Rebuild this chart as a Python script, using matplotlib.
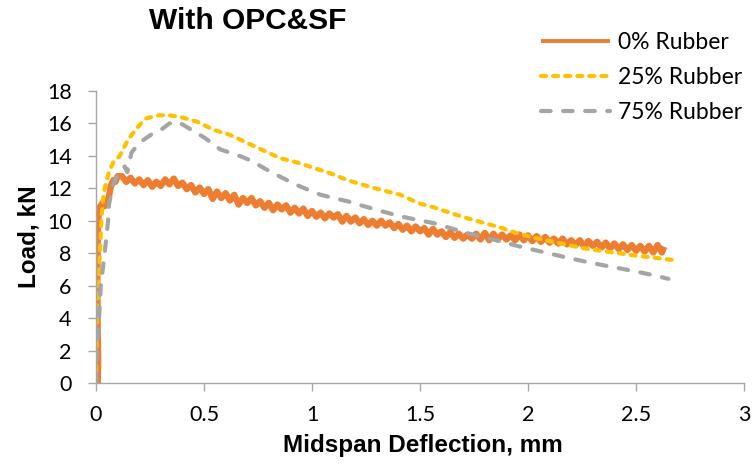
import matplotlib
matplotlib.use("Agg")
import matplotlib.pyplot as plt

# ---- data ----
x_0 = [0.0, 0.008, 0.010, 0.008, 0.006, 0.008, 0.012, 0.02, 0.03, 0.04, 0.05, 0.06, 0.07, 0.08, 0.09, 0.10,
       0.12, 0.14, 0.16, 0.18, 0.20, 0.22, 0.24, 0.26, 0.28, 0.30, 0.32, 0.34, 0.36, 0.38, 0.40,
       0.42, 0.44, 0.46, 0.48, 0.50, 0.52, 0.54, 0.56, 0.58, 0.60, 0.62, 0.64, 0.66, 0.68, 0.70,
       0.72, 0.74, 0.76, 0.78, 0.80, 0.82, 0.84, 0.86, 0.88, 0.90, 0.92, 0.94, 0.96, 0.98, 1.00,
       1.02, 1.04, 1.06, 1.08, 1.10, 1.12, 1.14, 1.16, 1.18, 1.20, 1.22, 1.24, 1.26, 1.28, 1.30,
       1.32, 1.34, 1.36, 1.38, 1.40, 1.42, 1.44, 1.46, 1.48, 1.50, 1.52, 1.54, 1.56, 1.58, 1.60,
       1.62, 1.64, 1.66, 1.68, 1.70, 1.72, 1.74, 1.76, 1.78, 1.80, 1.82, 1.84, 1.86, 1.88, 1.90,
       1.92, 1.94, 1.96, 1.98, 2.00, 2.02, 2.04, 2.06, 2.08, 2.10, 2.12, 2.14, 2.16, 2.18, 2.20,
       2.22, 2.24, 2.26, 2.28, 2.30, 2.32, 2.34, 2.36, 2.38, 2.40, 2.42, 2.44, 2.46, 2.48, 2.50,
       2.52, 2.54, 2.56, 2.58, 2.60, 2.62, 2.63]
y_0 = [0.0, 0.0, 1.5, 3.0, 6.0, 9.0, 10.5, 10.9, 11.1, 10.9, 11.2, 11.5, 12.2, 12.5, 12.4, 12.75,
       12.75, 12.4, 12.65, 12.3, 12.55, 12.2, 12.5, 12.1, 12.4, 12.15, 12.55, 12.25, 12.6, 12.15, 12.35,
       11.95, 12.2, 11.75, 12.05, 11.65, 11.95, 11.35, 11.8, 11.4, 11.7, 11.25, 11.6, 11.0, 11.4, 11.1,
       11.4, 10.95, 11.2, 10.8, 11.1, 10.65, 11.0, 10.7, 10.95, 10.5, 10.8, 10.45, 10.75, 10.3, 10.6,
       10.25, 10.5, 10.15, 10.45, 10.2, 10.4, 9.95, 10.3, 9.95, 10.2, 9.85, 10.1, 9.75, 10.0, 9.7,
       10.0, 9.7, 9.9, 9.55, 9.8, 9.45, 9.7, 9.35, 9.65, 9.35, 9.55, 9.15, 9.5, 9.15, 9.35,
       9.0, 9.3, 8.95, 9.2, 8.9, 9.15, 8.9, 9.2, 8.85, 9.25, 8.8, 9.2, 8.85, 9.15, 8.85,
       9.1, 8.8, 9.15, 8.8, 9.1, 8.75, 9.05, 8.7, 9.0, 8.65, 8.9, 8.6, 8.9, 8.55, 8.8,
       8.5, 8.8, 8.4, 8.75, 8.45, 8.7, 8.35, 8.65, 8.3, 8.6, 8.25, 8.55, 8.2, 8.5, 8.15,
       8.45, 8.1, 8.45, 8.05, 8.5, 8.05, 8.4]

x_25 = [0.0, 0.005, 0.010, 0.018, 0.025, 0.030, 0.040, 0.060, 0.080, 0.110, 0.148, 0.195, 0.23,
        0.29, 0.34, 0.39, 0.47, 0.545, 0.62, 0.70, 0.78, 0.855, 0.93, 1.01, 1.09, 1.165, 1.24,
        1.32, 1.41, 1.49, 1.57, 1.645, 1.72, 1.80, 1.88, 1.95, 2.03, 2.11, 2.19, 2.26, 2.34,
        2.42, 2.50, 2.57, 2.63, 2.69]
y_25 = [0.0, 4.0, 6.0, 8.0, 10.0, 11.0, 12.0, 13.0, 13.6, 14.0, 15.0, 15.8, 16.3,
        16.5, 16.5, 16.4, 16.1, 15.6, 15.3, 14.8, 14.3, 13.85, 13.6, 13.25, 12.9, 12.5, 12.2,
        11.9, 11.6, 11.1, 10.8, 10.47, 10.15, 9.85, 9.55, 9.23, 8.95, 8.72, 8.5, 8.3, 8.15,
        8.0, 7.85, 7.75, 7.65, 7.55]

x_75 = [0.0, 0.005, 0.014, 0.022, 0.04, 0.056, 0.06, 0.075, 0.087, 0.10, 0.12, 0.133, 0.145,
        0.164, 0.20, 0.265, 0.30, 0.34, 0.38, 0.43, 0.505, 0.575, 0.62, 0.67, 0.72, 0.777,
        0.855, 0.93, 1.04, 1.165, 1.24, 1.32, 1.41, 1.49, 1.565, 1.64, 1.72, 1.80, 1.876,
        1.95, 2.03, 2.11, 2.19, 2.26, 2.34, 2.42, 2.50, 2.58, 2.65]
y_75 = [0.0, 2.0, 4.0, 6.0, 8.0, 10.0, 11.0, 12.0, 12.5, 12.8, 13.0, 13.35, 13.0,
        14.2, 14.8, 15.4, 15.6, 16.0, 16.1, 15.7, 15.1, 14.4, 14.2, 13.97, 13.7, 13.25,
        12.7, 12.2, 11.6, 11.2, 10.9, 10.6, 10.27, 10.05, 9.85, 9.55, 9.23, 8.97, 8.72,
        8.45, 8.2, 7.95, 7.7, 7.5, 7.28, 7.08, 6.87, 6.65, 6.42]

labels = ["0% Rubber", "25% Rubber", "75% Rubber"]
colors = ["#ED7D31", "#FFC000", "#A5A5A5"]
x_ticks = [0, 0.5, 1, 1.5, 2, 2.5, 3]
y_ticks = [0, 2, 4, 6, 8, 10, 12, 14, 16, 18]

# ---- figure ----
fig = plt.figure(figsize=(7.56, 4.65), dpi=100)
ax = fig.add_axes([96/756, 1 - 383/465, (744-96)/756, (383-91)/465])

ax.plot(x_0, y_0, color=colors[0], lw=4.6, solid_joinstyle="round", solid_capstyle="butt", label=labels[0])
ax.plot(x_25, y_25, color=colors[1], lw=3.0, dashes=(1.2, 1.7), dash_capstyle="round", label=labels[1])
ax.plot(x_75, y_75, color=colors[2], lw=3.0, dashes=(2.3, 3.0), dash_capstyle="round", label=labels[2])

ax.set_xlim(0, 3)
ax.set_ylim(0, 18)
ax.set_xticks(x_ticks)
ax.set_xticklabels([f"{t:g}" for t in x_ticks])
ax.set_yticks(y_ticks)
ax.set_yticklabels([str(t) for t in y_ticks])

tick_font = "Lato"
for lab in ax.get_xticklabels() + ax.get_yticklabels():
    lab.set_fontfamily(tick_font)
    lab.set_fontsize(15.5)
    lab.set_color("black")

for s in ["top", "right"]:
    ax.spines[s].set_visible(False)
for s in ["left", "bottom"]:
    ax.spines[s].set_color("#A6A6A6")
    ax.spines[s].set_linewidth(1.0)
ax.tick_params(axis="both", direction="out", length=5.5, width=1.0, color="#A6A6A6")
ax.tick_params(axis="x", pad=10)
ax.tick_params(axis="y", pad=12)

lab_font = dict(family="Liberation Sans", weight="bold", size=17.5)
fig.text(423/756, 1 - 445/465, "Midspan Deflection, mm", ha="center", va="center", fontdict=lab_font)
fig.text(29/756, 1 - 237/465, "Load, kN", ha="center", va="center", rotation=90, fontdict=lab_font)
fig.text(248/756, 1 - 21/465, "With OPC&SF", ha="center", va="center",
         fontdict=dict(family="Liberation Sans", weight="bold", size=21.5))

leg = fig.legend(loc="upper left", bbox_to_anchor=(541/756, 1 - 32/465),
                 frameon=False, prop=dict(family="Lato", size=16.5),
                 handlelength=3.0, handletextpad=0.35, labelspacing=0.62, borderpad=0,
                 borderaxespad=0)
leg_lines = leg.get_lines()
leg_lines[0].set_linewidth(2.8)
leg_lines[1].set_linewidth(3.0)
leg_lines[2].set_linewidth(3.0)

fig.savefig("out.png", dpi=100)
